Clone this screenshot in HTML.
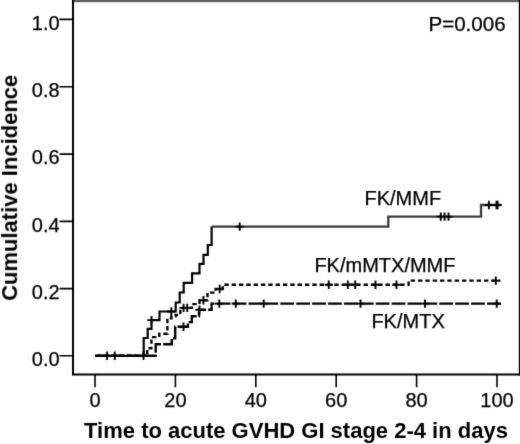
<!DOCTYPE html>
<html><head><meta charset="utf-8"><style>
html,body{margin:0;padding:0;background:#fff;width:520px;height:444px;overflow:hidden;}
svg{display:block;will-change:transform;font-family:"Liberation Sans",sans-serif;}
</style></head><body>
<svg width="520" height="444" viewBox="0 0 520 444"><defs><clipPath id="cl1"><rect x="0" y="306.5" width="520" height="60"/><rect x="0" y="0" width="210" height="444"/></clipPath><clipPath id="cl2"><rect x="210" y="0" width="310" height="306.5"/></clipPath><filter id="bl" color-interpolation-filters="sRGB" x="0" y="0" width="520" height="444" filterUnits="userSpaceOnUse" primitiveUnits="userSpaceOnUse"><feConvolveMatrix order="3" kernelMatrix="0.0113 0.0838 0.0113 0.0838 0.6193 0.0838 0.0113 0.0838 0.0113" edgeMode="duplicate" preserveAlpha="false"/></filter></defs><g filter="url(#bl)"><rect width="520" height="444" fill="#fff"/>
<rect x="73" y="0" width="447" height="2.2" fill="#5e5e5e"/>
<rect x="518.8" y="0" width="1.2" height="375.4" fill="#000"/>
<path d="M73,0V374.4H520" stroke="#000" stroke-width="2" fill="none"/>
<path d="M59.5,19.4H73M59.5,86.8H73M59.5,154.1H73M59.5,221.4H73M59.5,288.6H73M59.5,355.8H73" stroke="#000" stroke-width="1.6"/>
<path d="M95.0,374.4V387.2M175.4,374.4V387.2M255.8,374.4V387.2M336.2,374.4V387.2M416.6,374.4V387.2M497.0,374.4V387.2" stroke="#000" stroke-width="1.6"/>
<text x="59.6" y="29.6" font-family="Liberation Sans, sans-serif" stroke="#000" stroke-width="0.25" font-size="20" text-anchor="end">1.0</text>
<text x="59.6" y="97.0" font-family="Liberation Sans, sans-serif" stroke="#000" stroke-width="0.25" font-size="20" text-anchor="end">0.8</text>
<text x="59.6" y="164.3" font-family="Liberation Sans, sans-serif" stroke="#000" stroke-width="0.25" font-size="20" text-anchor="end">0.6</text>
<text x="59.6" y="231.6" font-family="Liberation Sans, sans-serif" stroke="#000" stroke-width="0.25" font-size="20" text-anchor="end">0.4</text>
<text x="59.6" y="298.8" font-family="Liberation Sans, sans-serif" stroke="#000" stroke-width="0.25" font-size="20" text-anchor="end">0.2</text>
<text x="59.6" y="366.0" font-family="Liberation Sans, sans-serif" stroke="#000" stroke-width="0.25" font-size="20" text-anchor="end">0.0</text>
<text x="95.0" y="407.3" font-family="Liberation Sans, sans-serif" stroke="#000" stroke-width="0.25" font-size="20" text-anchor="middle">0</text>
<text x="175.4" y="407.3" font-family="Liberation Sans, sans-serif" stroke="#000" stroke-width="0.25" font-size="20" text-anchor="middle">20</text>
<text x="255.8" y="407.3" font-family="Liberation Sans, sans-serif" stroke="#000" stroke-width="0.25" font-size="20" text-anchor="middle">40</text>
<text x="336.2" y="407.3" font-family="Liberation Sans, sans-serif" stroke="#000" stroke-width="0.25" font-size="20" text-anchor="middle">60</text>
<text x="416.6" y="407.3" font-family="Liberation Sans, sans-serif" stroke="#000" stroke-width="0.25" font-size="20" text-anchor="middle">80</text>
<text x="497.0" y="407.3" font-family="Liberation Sans, sans-serif" stroke="#000" stroke-width="0.25" font-size="20" text-anchor="middle">100</text>
<text x="296" y="438" font-family="Liberation Sans, sans-serif"  font-size="22" font-weight="bold" text-anchor="middle">Time to acute GVHD GI stage 2-4 in days</text>
<text transform="translate(17.1,187.8) rotate(-90)" x="0" y="0" font-family="Liberation Sans, sans-serif"  font-size="22" font-weight="bold" text-anchor="middle">Cumulative Incidence</text>
<text x="428.4" y="30.8" font-family="Liberation Sans, sans-serif" stroke="#000" stroke-width="0.25" font-size="20.6">P=0.006</text>
<text x="364.5" y="205" font-family="Liberation Sans, sans-serif" stroke="#000" stroke-width="0.25" font-size="20">FK/MMF</text>
<text x="314.4" y="271.7" font-family="Liberation Sans, sans-serif" stroke="#000" stroke-width="0.25" font-size="20">FK/mMTX/MMF</text>
<text x="371.4" y="328" font-family="Liberation Sans, sans-serif" stroke="#000" stroke-width="0.25" font-size="20">FK/MTX</text>
<path d="M95,355.8H155.7V344.2H171.7V338.2H175.2V326.8H187.9V322.1H191.8V316.2H199V309.8H211.6V303.6H501" stroke="#000" stroke-width="2.4" fill="none" stroke-dasharray="13.8 2.10" stroke-dashoffset="15.70" clip-path="url(#cl1)"/>
<path d="M95,355.8H155.7V344.2H171.7V338.2H175.2V326.8H187.9V322.1H191.8V316.2H199V309.8H211.6V303.6H501" stroke="#000" stroke-width="2.4" fill="none" stroke-dasharray="13.8 2.10" stroke-dashoffset="1.00" clip-path="url(#cl2)"/>
<path d="M95,355.8H147.2V348.2H151.4V337.1H159.3V333.8H167.4V318.3H171.5V316.2H175.6V314.9H180.3V307.9H191.8V304.1H199.5V300.3H207.5V292.6H215.6V289H222.8V284.8H408.6V280.6H500.5" stroke="#000" stroke-width="2.4" fill="none" stroke-dasharray="4.4 2.93" stroke-dashoffset="4.94"/>
<path d="M95,355.8H143.7V338H147.7V328.8H151.5V320.1H159.5V311.5H175.7V302.5H179.7V292.5H183.7V282.9H192.1V273.4H199.5V263.9H203.5V254.9H207.8V245H211.6V226.6" stroke="#000" stroke-width="2.2" fill="none" stroke-linejoin="miter"/>
<path d="M211.6,226.6H388.3V216.6H481V205H500.8" stroke="#3a3a3a" stroke-width="2.3" fill="none"/>
<path d="M102.9,355.8H111.3M107.1,351.6V360.0M110.6,355.8H119.0M114.8,351.6V360.0M139.3,355.8H147.7M143.5,351.6V360.0M147.3,320.1H155.7M151.5,315.9V324.3M167.1,311.5H175.5M171.3,307.3V315.7M235.5,226.6H243.9M239.7,222.4V230.8M436.6,216.6H445.0M440.8,212.4V220.8M440.4,216.6H448.8M444.6,212.4V220.8M444.3,216.6H452.7M448.5,212.4V220.8M484.7,205.0H493.1M488.9,200.8V209.2M492.3,205.0H500.7M496.5,200.8V209.2M493.4,205.0H501.8M497.6,200.8V209.2" stroke="#000" stroke-width="1.9" fill="none"/>
<path d="M179.4,307.9H187.8M183.6,303.7V312.1M183.0,307.9H191.4M187.2,303.7V312.1M199.2,300.3H207.6M203.4,296.1V304.5M215.5,289.0H223.9M219.7,284.8V293.2M324.6,284.8H333.0M328.8,280.6V289.0M343.6,284.8H352.0M347.8,280.6V289.0M351.0,284.8H359.4M355.2,280.6V289.0M371.3,284.8H379.7M375.5,280.6V289.0M392.3,284.8H400.7M396.5,280.6V289.0M491.6,280.6H500.0M495.8,276.4V284.8" stroke="#000" stroke-width="1.9" fill="none"/>
<path d="M179.3,326.8H187.7M183.5,322.6V331.0M195.3,309.8H203.7M199.5,305.6V314.0M215.1,303.6H223.5M219.3,299.4V307.8M231.6,303.6H240.0M235.8,299.4V307.8M259.5,303.6H267.9M263.7,299.4V307.8M356.3,303.6H364.7M360.5,299.4V307.8M420.8,303.6H429.2M425.0,299.4V307.8M492.5,303.6H500.9M496.7,299.4V307.8" stroke="#000" stroke-width="1.9" fill="none"/></g></svg>
</body></html>
